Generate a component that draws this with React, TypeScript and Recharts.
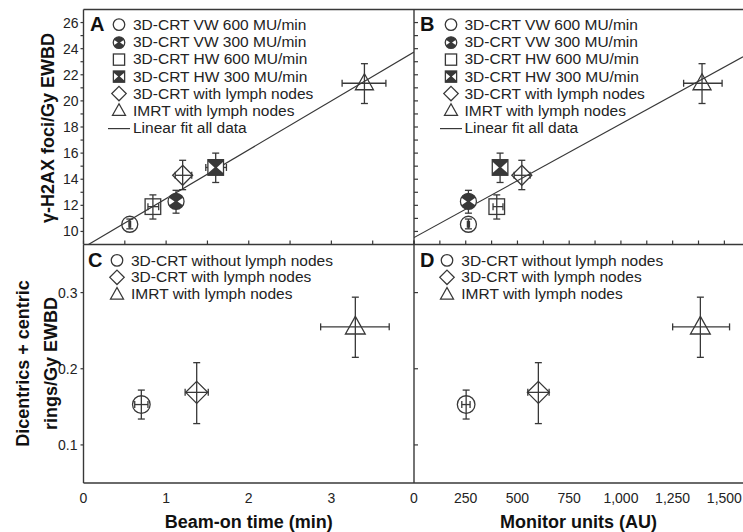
import { ScatterChart, Scatter, XAxis, YAxis, ErrorBar, Legend } from 'recharts'

const FONT = '"Liberation Sans", Arial, Helvetica, sans-serif'
const INK = '#383838'
const TEXT = '#232323'

// Panels A and B: gamma-H2AX foci per Gy EWBD
const groupsAB = [
  '3D-CRT VW 600 MU/min',
  '3D-CRT VW 300 MU/min',
  '3D-CRT HW 600 MU/min',
  '3D-CRT HW 300 MU/min',
  '3D-CRT with lymph nodes',
  'IMRT with lymph nodes',
]
const shapesAB = ['circle', 'circleHalf', 'square', 'squareHalf', 'diamond', 'triangle']
const foci = [10.55, 12.3, 11.9, 14.9, 14.3, 21.35]
const fociLo = [10.2, 11.4, 10.95, 13.75, 13.2, 19.8]
const fociHi = [10.95, 13.15, 12.8, 16.0, 15.45, 22.85]
const beamTime = [0.56, 1.12, 0.84, 1.6, 1.2, 3.4]
const beamTimeLo = [0.55, 1.06, 0.78, 1.48, 1.11, 3.13]
const beamTimeHi = [0.57, 1.18, 0.91, 1.73, 1.31, 3.66]
const monitorUnits = [263, 263, 400, 416, 521, 1392]
const monitorUnitsLo = [258, 250, 382, 397, 484, 1303]
const monitorUnitsHi = [268, 276, 430, 435, 561, 1489]

// linear fit end points
const fitTime = [0.06, 4]
const fitTimeFoci = [9.0, 23.74]
const fitMu = [0, 1590]
const fitMuFoci = [9.53, 23.38]

// Panels C and D: dicentrics + centric rings per Gy EWBD
const groupsCD = ['3D-CRT without lymph nodes', '3D-CRT with lymph nodes', 'IMRT with lymph nodes']
const shapesCD = ['circle', 'diamond', 'triangle']
const dicentrics = [0.153, 0.169, 0.255]
const dicentricsLo = [0.134, 0.128, 0.215]
const dicentricsHi = [0.172, 0.208, 0.294]
const beamTimeCD = [0.7, 1.37, 3.29]
const beamTimeCDLo = [0.62, 1.23, 2.87]
const beamTimeCDHi = [0.78, 1.51, 3.7]
const monitorUnitsCD = [252, 601, 1384]
const monitorUnitsCDLo = [231, 550, 1250]
const monitorUnitsCDHi = [271, 653, 1525]

// axis ticks
const timeTicks = [0, 0.5, 1, 1.5, 2, 2.5, 3, 3.5, 4]
const muTicks = [0, 125, 250, 375, 500, 625, 750, 875, 1000, 1125, 1250, 1375, 1500]
const fociTicks = [10, 11, 12, 13, 14, 15, 16, 17, 18, 19, 20, 21, 22, 23, 24, 25, 26]
const dicTicks = [0.1, 0.2, 0.3]

const points = (xs: number[], xl: number[], xh: number[], ys: number[], yl: number[], yh: number[]) =>
  xs.map((x, i) => ({
    x,
    y: ys[i],
    ex: [x - xl[i], xh[i] - x],
    ey: [ys[i] - yl[i], yh[i] - ys[i]],
  }))

const fitLine = (xs: number[], ys: number[]) => xs.map((x, i) => ({ x, y: ys[i] }))

function Marker({ kind, cx, cy, s = 1 }: { kind: string; cx: number; cy: number; s?: number }) {
  const sw = 1.3
  if (kind === 'circle') {
    return <circle cx={cx} cy={cy} r={8 * s} fill="none" stroke={INK} strokeWidth={sw} />
  }
  if (kind === 'circleHalf') {
    const r = 8 * s
    return (
      <g>
        <circle cx={cx} cy={cy} r={r} fill={INK} />
        <path d={`M${cx - r},${cy - 4.5 * s}L${cx - 1.5 * s},${cy}L${cx - r},${cy + 4.5 * s}Z`} fill="#fff" />
        <path d={`M${cx + r},${cy - 4.5 * s}L${cx + 1.5 * s},${cy}L${cx + r},${cy + 4.5 * s}Z`} fill="#fff" />
        <circle cx={cx} cy={cy} r={r} fill="none" stroke={INK} strokeWidth={sw} />
      </g>
    )
  }
  if (kind === 'square' || kind === 'squareHalf') {
    const h = 7.8 * s
    return (
      <g>
        {kind === 'squareHalf' && (
          <>
            <rect x={cx - h} y={cy - h} width={2 * h} height={2 * h} fill={INK} />
            <path d={`M${cx - h},${cy - h * 0.75}L${cx - 1.2 * s},${cy}L${cx - h},${cy + h * 0.75}Z`} fill="#fff" />
            <path d={`M${cx + h},${cy - h * 0.75}L${cx + 1.2 * s},${cy}L${cx + h},${cy + h * 0.75}Z`} fill="#fff" />
          </>
        )}
        <rect x={cx - h} y={cy - h} width={2 * h} height={2 * h} fill="none" stroke={INK} strokeWidth={sw} />
      </g>
    )
  }
  if (kind === 'diamond') {
    const h = 10 * s
    return (
      <path d={`M${cx},${cy - h}L${cx + h},${cy}L${cx},${cy + h}L${cx - h},${cy}Z`} fill="none" stroke={INK} strokeWidth={sw} />
    )
  }
  if (kind === 'triangle') {
    const w = 9 * s
    return (
      <path
        d={`M${cx},${cy - 9.5 * s}L${cx + w},${cy + 6.5 * s}L${cx - w},${cy + 6.5 * s}Z`}
        fill="none"
        stroke={INK}
        strokeWidth={sw}
      />
    )
  }
  if (kind === 'line') {
    return <line x1={cx - 11} y1={cy} x2={cx + 11} y2={cy} stroke={INK} strokeWidth={1.2} />
  }
  return null
}

function PanelLegend({
  letter,
  labels,
  kinds,
  letterLeft,
  rowHeight,
}: {
  letter: string
  labels: string[]
  kinds: string[]
  letterLeft: number
  rowHeight: number
}) {
  return (
    <div style={{ position: 'relative', fontFamily: FONT, fontSize: 15.5, color: TEXT }}>
      <span
        style={{
          position: 'absolute',
          left: letterLeft,
          top: -2.4,
          fontSize: 20,
          lineHeight: '20px',
          fontWeight: 'bold',
          color: '#111',
        }}
      >
        {letter}
      </span>
      {labels.map((label, i) => (
        <div key={label} style={{ display: 'flex', alignItems: 'center', height: rowHeight }}>
          <svg width={24} height={rowHeight} style={{ flex: 'none' }}>
            <Marker kind={kinds[i]} cx={12} cy={rowHeight / 2} s={0.72} />
          </svg>
          <span style={{ marginLeft: 2, whiteSpace: 'nowrap' }}>{label}</span>
        </div>
      ))}
    </div>
  )
}

const tickStyle = { fontSize: 14, fill: TEXT, fontFamily: FONT }
const axisLine = { stroke: INK, strokeWidth: 1.4 }
const tickLine = { stroke: INK, strokeWidth: 1.2 }
const blank = () => ''

function FociLabel() {
  return (
    <text
      transform="translate(54,128) rotate(-90)"
      textAnchor="middle"
      fontFamily={FONT}
      fontSize={18}
      fontWeight="bold"
      fill="#111"
    >
      γ-H2AX foci/Gy EWBD
    </text>
  )
}

function DicLabel() {
  return (
    <g fontFamily={FONT} fontSize={18} fontWeight="bold" fill="#111">
      <text transform="translate(29,118.5) rotate(-90)" textAnchor="middle">
        Dicentrics + centric
      </text>
      <text transform="translate(56.5,118.5) rotate(-90)" textAnchor="middle">
        rings/Gy EWBD
      </text>
    </g>
  )
}

function XTitle({ text, x }: { text: string; x: number }) {
  return (
    <text x={x} y={282.5} textAnchor="middle" fontFamily={FONT} fontSize={18} fontWeight="bold" fill="#111">
      {text}
    </text>
  )
}

export default function App() {
  const dataA = points(beamTime, beamTimeLo, beamTimeHi, foci, fociLo, fociHi)
  const dataB = points(monitorUnits, monitorUnitsLo, monitorUnitsHi, foci, fociLo, fociHi)
  const dataC = points(beamTimeCD, beamTimeCDLo, beamTimeCDHi, dicentrics, dicentricsLo, dicentricsHi)
  const dataD = points(monitorUnitsCD, monitorUnitsCDLo, monitorUnitsCDHi, dicentrics, dicentricsLo, dicentricsHi)

  const series = (data: any[], kinds: string[], s: number) =>
    data.map((d, i) => (
      <Scatter
        key={i}
        data={[d]}
        xAxisId="b"
        yAxisId="l"
        isAnimationActive={false}
        shape={(p: any) => <Marker kind={kinds[i]} cx={p.cx} cy={p.cy} s={s} />}
      >
        <ErrorBar dataKey="ey" direction="y" width={3.5} stroke={INK} strokeWidth={1.3} />
        <ErrorBar dataKey="ex" direction="x" width={3.5} stroke={INK} strokeWidth={1.3} />
      </Scatter>
    ))

  const legendAB = [...groupsAB, 'Linear fit all data']
  const kindsAB = [...shapesAB, 'line']

  return (
    <div style={{ position: 'absolute', left: 0, top: 0, width: 743, height: 532, background: '#fff', overflow: 'hidden' }}>
      <style>{'.recharts-surface{overflow:visible}'}</style>

      {/* A */}
      <div style={{ position: 'absolute', left: 0, top: 0 }}>
        <ScatterChart width={414} height={246} margin={{ top: 9.5, right: 0, bottom: 1.5, left: 0 }}>
          <XAxis
            xAxisId="b"
            type="number"
            dataKey="x"
            domain={[0, 4]}
            ticks={timeTicks}
            interval={0}
            allowDataOverflow
            mirror
            tickSize={4}
            tickFormatter={blank}
            axisLine={axisLine}
            tickLine={tickLine}
          />
          <XAxis xAxisId="t" type="number" dataKey="x" orientation="top" domain={[0, 4]} mirror tickLine={false} tick={false} axisLine={axisLine} />
          <YAxis
            yAxisId="l"
            type="number"
            dataKey="y"
            domain={[9, 27]}
            ticks={fociTicks}
            interval={0}
            allowDataOverflow
            width={83.5}
            tickSize={3}
            tickMargin={2}
            tick={tickStyle}
            tickFormatter={(v: number) => (v % 2 === 0 ? String(v) : '')}
            axisLine={axisLine}
            tickLine={tickLine}
            label={<FociLabel />}
          />
          <Scatter
            data={fitLine(fitTime, fitTimeFoci)}
            xAxisId="b"
            yAxisId="l"
            line={{ stroke: INK, strokeWidth: 1.2 }}
            shape={() => <g />}
            isAnimationActive={false}
          />
          {series(dataA, shapesAB, 1)}
          <Legend
            layout="vertical"
            align="center"
            verticalAlign="middle"
            wrapperStyle={{ left: 107, top: 16.4, width: 295 }}
            content={() => (
              <PanelLegend letter="A" labels={legendAB} kinds={kindsAB} letterLeft={-17} rowHeight={17.2} />
            )}
          />
        </ScatterChart>
      </div>

      {/* B */}
      <div style={{ position: 'absolute', left: 414, top: 0 }}>
        <ScatterChart width={329} height={246} margin={{ top: 9.5, right: 0, bottom: 1.5, left: 0 }}>
          <XAxis
            xAxisId="b"
            type="number"
            dataKey="x"
            domain={[0, 1590]}
            ticks={muTicks}
            interval={0}
            allowDataOverflow
            mirror
            tickSize={4}
            tickFormatter={blank}
            axisLine={axisLine}
            tickLine={tickLine}
          />
          <XAxis xAxisId="t" type="number" dataKey="x" orientation="top" domain={[0, 1590]} mirror tickLine={false} tick={false} axisLine={axisLine} />
          <YAxis
            yAxisId="l"
            type="number"
            dataKey="y"
            domain={[9, 27]}
            ticks={fociTicks}
            interval={0}
            allowDataOverflow
            mirror
            tickSize={4}
            tickFormatter={blank}
            axisLine={axisLine}
            tickLine={tickLine}
          />
          <Scatter
            data={fitLine(fitMu, fitMuFoci)}
            xAxisId="b"
            yAxisId="l"
            line={{ stroke: INK, strokeWidth: 1.2 }}
            shape={() => <g />}
            isAnimationActive={false}
          />
          {series(dataB, shapesAB, 1)}
          <Legend
            layout="vertical"
            align="center"
            verticalAlign="middle"
            wrapperStyle={{ left: 24.5, top: 16.4, width: 295 }}
            content={() => (
              <PanelLegend letter="B" labels={legendAB} kinds={kindsAB} letterLeft={-18.5} rowHeight={17.2} />
            )}
          />
        </ScatterChart>
      </div>

      {/* C */}
      <div style={{ position: 'absolute', left: 0, top: 244.5 }}>
        <ScatterChart width={414} height={287.5} margin={{ top: 0, right: 0, bottom: 0, left: 0 }}>
          <XAxis
            xAxisId="b"
            type="number"
            dataKey="x"
            domain={[0, 4]}
            ticks={timeTicks}
            interval={0}
            allowDataOverflow
            height={49.5}
            tickSize={3}
            tickMargin={7}
            tick={tickStyle}
            tickFormatter={(v: number) => (Number.isInteger(v) && v < 4 ? String(v) : '')}
            axisLine={axisLine}
            tickLine={false}
            label={<XTitle text="Beam-on time (min)" x={248.75} />}
          />
          <XAxis
            xAxisId="in"
            type="number"
            dataKey="x"
            domain={[0, 4]}
            ticks={timeTicks}
            interval={0}
            mirror
            tickSize={4}
            tickFormatter={blank}
            axisLine={false}
            tickLine={tickLine}
          />
          <YAxis
            yAxisId="l"
            type="number"
            dataKey="y"
            domain={[0.05, 0.3625]}
            ticks={dicTicks}
            interval={0}
            allowDataOverflow
            width={83.5}
            tickSize={3}
            tickMargin={3}
            tick={tickStyle}
            tickFormatter={(v: number) => v.toFixed(1)}
            axisLine={axisLine}
            tickLine={tickLine}
            label={<DicLabel />}
          />
          {series(dataC, shapesCD, 1.1)}
          <Legend
            layout="vertical"
            align="center"
            verticalAlign="middle"
            wrapperStyle={{ left: 105, top: 7.85, width: 295 }}
            content={() => (
              <PanelLegend letter="C" labels={groupsCD} kinds={shapesCD} letterLeft={-17} rowHeight={16.7} />
            )}
          />
        </ScatterChart>
      </div>

      {/* D */}
      <div style={{ position: 'absolute', left: 414, top: 244.5 }}>
        <ScatterChart width={329} height={287.5} margin={{ top: 0, right: 0, bottom: 0, left: 0 }}>
          <XAxis
            xAxisId="b"
            type="number"
            dataKey="x"
            domain={[0, 1590]}
            ticks={muTicks}
            interval={0}
            allowDataOverflow
            height={49.5}
            tickSize={3}
            tickMargin={7}
            tick={tickStyle}
            tickFormatter={(v: number) => (v % 250 === 0 ? v.toLocaleString('en-US') : '')}
            axisLine={axisLine}
            tickLine={false}
            label={<XTitle text="Monitor units (AU)" x={164.5} />}
          />
          <XAxis
            xAxisId="in"
            type="number"
            dataKey="x"
            domain={[0, 1590]}
            ticks={muTicks}
            interval={0}
            mirror
            tickSize={4}
            tickFormatter={blank}
            axisLine={false}
            tickLine={tickLine}
          />
          <YAxis
            yAxisId="l"
            type="number"
            dataKey="y"
            domain={[0.05, 0.3625]}
            ticks={dicTicks}
            interval={0}
            allowDataOverflow
            mirror
            tickSize={4}
            tickFormatter={blank}
            axisLine={axisLine}
            tickLine={tickLine}
          />
          {series(dataD, shapesCD, 1.1)}
          <Legend
            layout="vertical"
            align="center"
            verticalAlign="middle"
            wrapperStyle={{ left: 21.3, top: 7.85, width: 295 }}
            content={() => (
              <PanelLegend letter="D" labels={groupsCD} kinds={shapesCD} letterLeft={-15.3} rowHeight={16.7} />
            )}
          />
        </ScatterChart>
      </div>
    </div>
  )
}
